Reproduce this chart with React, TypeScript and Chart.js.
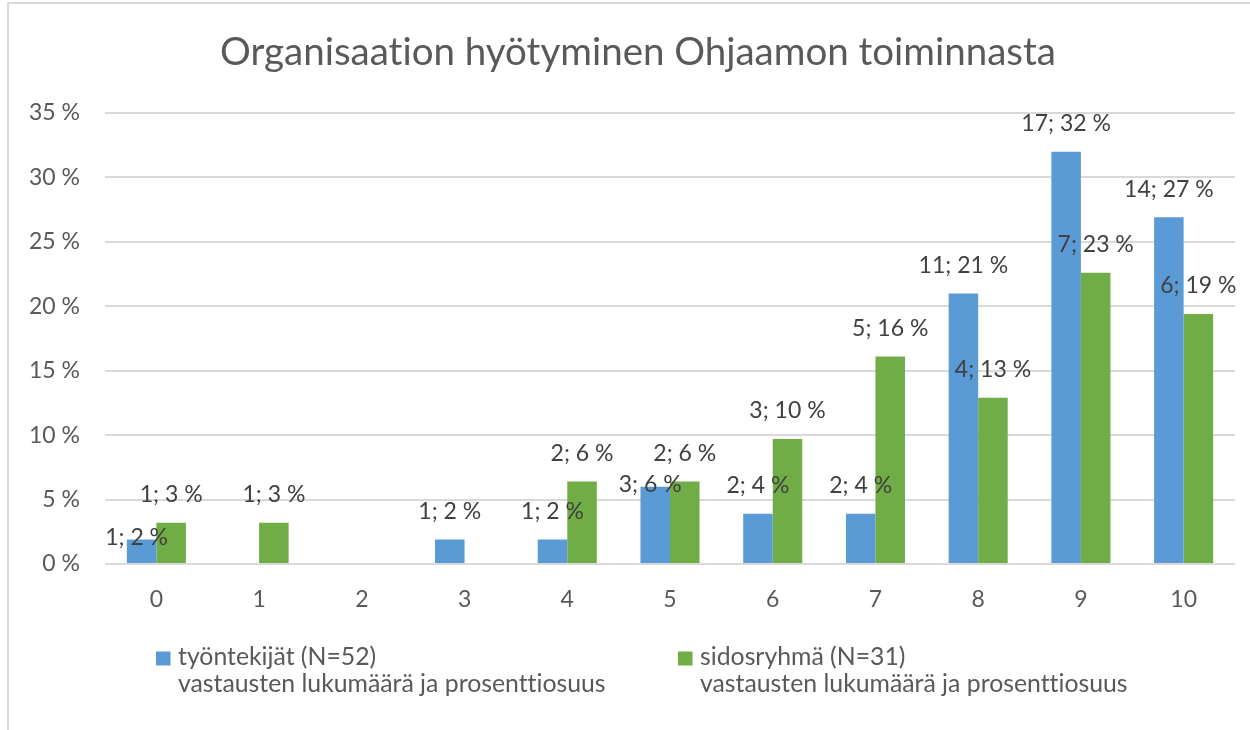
import React, { useEffect, useRef } from "react";
import { Chart, registerables } from "chart.js";

Chart.register(...registerables);

// ---- data ----
const TITLE = "Organisaation hyötyminen Ohjaamon toiminnasta";
const CATEGORIES = ["0", "1", "2", "3", "4", "5", "6", "7", "8", "9", "10"];
const SERIES_NAMES = ["työntekijät (N=52)", "sidosryhmä (N=31)"];
const LEGEND_SUBTITLE = "vastausten lukumäärä ja prosenttiosuus";

// bar heights (percent)
const EMPLOYEE_PCT = [1.9, null, null, 1.9, 1.9, 6.0, 3.9, 3.9, 21.0, 32.0, 26.9];
const EMPLOYEE_COUNT = [1, null, null, 1, 1, 3, 2, 2, 11, 17, 14];
const EMPLOYEE_LABEL_PCT = [2, null, null, 2, 2, 6, 4, 4, 21, 32, 27];

const STAKEHOLDER_PCT = [3.2, 3.2, null, null, 6.4, 6.4, 9.7, 16.1, 12.9, 22.6, 19.4];
const STAKEHOLDER_COUNT = [1, 1, null, null, 2, 2, 3, 5, 4, 7, 6];
const STAKEHOLDER_LABEL_PCT = [3, 3, null, null, 6, 6, 10, 16, 13, 23, 19];

const Y_MIN = 0;
const Y_MAX = 35;
const Y_STEP = 5;

// ---- styles ----
const BLUE = "#5B9BD5";
const GREEN = "#70AD47";
const AXIS_COLOR = "#595959";
const LABEL_COLOR = "#404040";
const GRID_COLOR = "#D9D9D9";
const FONT = "Lato";

const framePlugin = {
  id: "frame",
  beforeDraw(chart: any) {
    const ctx = chart.ctx;
    try {
      ctx.textRendering = "optimizeSpeed";
    } catch (e) {}
    ctx.save();
    ctx.fillStyle = "#ffffff";
    ctx.fillRect(0, 0, chart.width, chart.height);
    ctx.strokeStyle = GRID_COLOR;
    ctx.lineWidth = 2;
    ctx.beginPath();
    ctx.moveTo(8, chart.height);
    ctx.lineTo(8, 3);
    ctx.lineTo(chart.width, 3);
    ctx.stroke();
    ctx.restore();
  },
};

const titlePlugin = {
  id: "excelTitle",
  afterDraw(chart: any) {
    const ctx = chart.ctx;
    ctx.save();
    ctx.font = `38.5px ${FONT}`;
    ctx.fillStyle = AXIS_COLOR;
    ctx.textAlign = "center";
    ctx.textBaseline = "alphabetic";
    ctx.fillText(TITLE, 638, 65);
    ctx.restore();
  },
};

const labelPlugin = {
  id: "barLabels",
  afterDatasetsDraw(chart: any) {
    const ctx = chart.ctx;
    ctx.save();
    ctx.font = `23px ${FONT}`;
    ctx.fillStyle = LABEL_COLOR;
    ctx.textAlign = "center";
    ctx.textBaseline = "middle";
    const m0 = chart.getDatasetMeta(0);
    const m1 = chart.getDatasetMeta(1);
    const h = 18;
    CATEGORIES.forEach((_, i) => {
      let greenBox: any = null;
      if (STAKEHOLDER_PCT[i] != null) {
        const bar = m1.data[i];
        const text = `${STAKEHOLDER_COUNT[i]}; ${STAKEHOLDER_LABEL_PCT[i]} %`;
        const w = ctx.measureText(text).width;
        const x = bar.x;
        const y = bar.y - 28;
        ctx.fillText(text, x, y);
        greenBox = { x, y, w };
      }
      if (EMPLOYEE_PCT[i] != null) {
        const bar = m0.data[i];
        const text = `${EMPLOYEE_COUNT[i]}; ${EMPLOYEE_LABEL_PCT[i]} %`;
        const w = ctx.measureText(text).width;
        let x = bar.x;
        let y = bar.y - 28;
        if (
          greenBox &&
          Math.abs(greenBox.y - y) < h &&
          Math.abs(greenBox.x - x) < (greenBox.w + w) / 2
        ) {
          y = bar.y - 2;
          x = bar.x - 5;
        }
        ctx.fillText(text, x, y);
      }
    });
    ctx.restore();
  },
};

const legendPlugin = {
  id: "excelLegend",
  afterDraw(chart: any) {
    const ctx = chart.ctx;
    const items = [
      { color: BLUE, x: 156, name: SERIES_NAMES[0] },
      { color: GREEN, x: 678, name: SERIES_NAMES[1] },
    ];
    ctx.save();
    ctx.font = `24.8px ${FONT}`;
    ctx.fillStyle = AXIS_COLOR;
    ctx.textAlign = "left";
    ctx.textBaseline = "alphabetic";
    items.forEach((it) => {
      ctx.fillStyle = it.color;
      ctx.fillRect(it.x, 651.5, 14.5, 14);
      ctx.fillStyle = AXIS_COLOR;
      ctx.fillText(it.name, it.x + 22, 665);
      ctx.fillText(LEGEND_SUBTITLE, it.x + 22, 692);
    });
    ctx.restore();
  },
};

export default function App() {
  const ref = useRef<HTMLCanvasElement | null>(null);

  useEffect(() => {
    if (!ref.current) return;
    const chart = new Chart(ref.current, {
      type: "bar",
      data: {
        labels: CATEGORIES,
        datasets: [
          {
            label: SERIES_NAMES[0],
            data: EMPLOYEE_PCT as any,
            backgroundColor: BLUE,
            categoryPercentage: 0.575,
            barPercentage: 1,
          },
          {
            label: SERIES_NAMES[1],
            data: STAKEHOLDER_PCT as any,
            backgroundColor: GREEN,
            categoryPercentage: 0.575,
            barPercentage: 1,
          },
        ],
      },
      options: {
        responsive: false,
        animation: false,
        devicePixelRatio: 1,
        layout: { padding: { top: 113, right: 15, left: 0, bottom: 0 } },
        plugins: {
          legend: { display: false },
          title: { display: false },
          tooltip: { enabled: false },
        },
        scales: {
          x: {
            grid: { display: false, drawTicks: false },
            border: { display: false },
            ticks: {
              color: AXIS_COLOR,
              font: { family: FONT, size: 23 },
              padding: 22,
            },
            afterFit: (s: any) => {
              s.height = 166;
            },
          },
          y: {
            min: Y_MIN,
            max: Y_MAX,
            grid: { color: GRID_COLOR, lineWidth: 2, drawTicks: false },
            border: { display: false },
            ticks: {
              stepSize: Y_STEP,
              color: AXIS_COLOR,
              font: { family: FONT, size: 23 },
              padding: 25,
              callback: (v: any) => `${v} %`,
            },
            afterFit: (s: any) => {
              s.width = 105;
            },
          },
        },
      },
      plugins: [framePlugin, titlePlugin, labelPlugin, legendPlugin],
    });
    return () => chart.destroy();
  }, []);

  return (
    <div
      style={{
        position: "fixed",
        left: 0,
        top: 0,
        width: 1250,
        height: 730,
        background: "#fff",
      }}
    >
      <canvas ref={ref} width={1250} height={730} style={{ display: "block" }} />
    </div>
  );
}
